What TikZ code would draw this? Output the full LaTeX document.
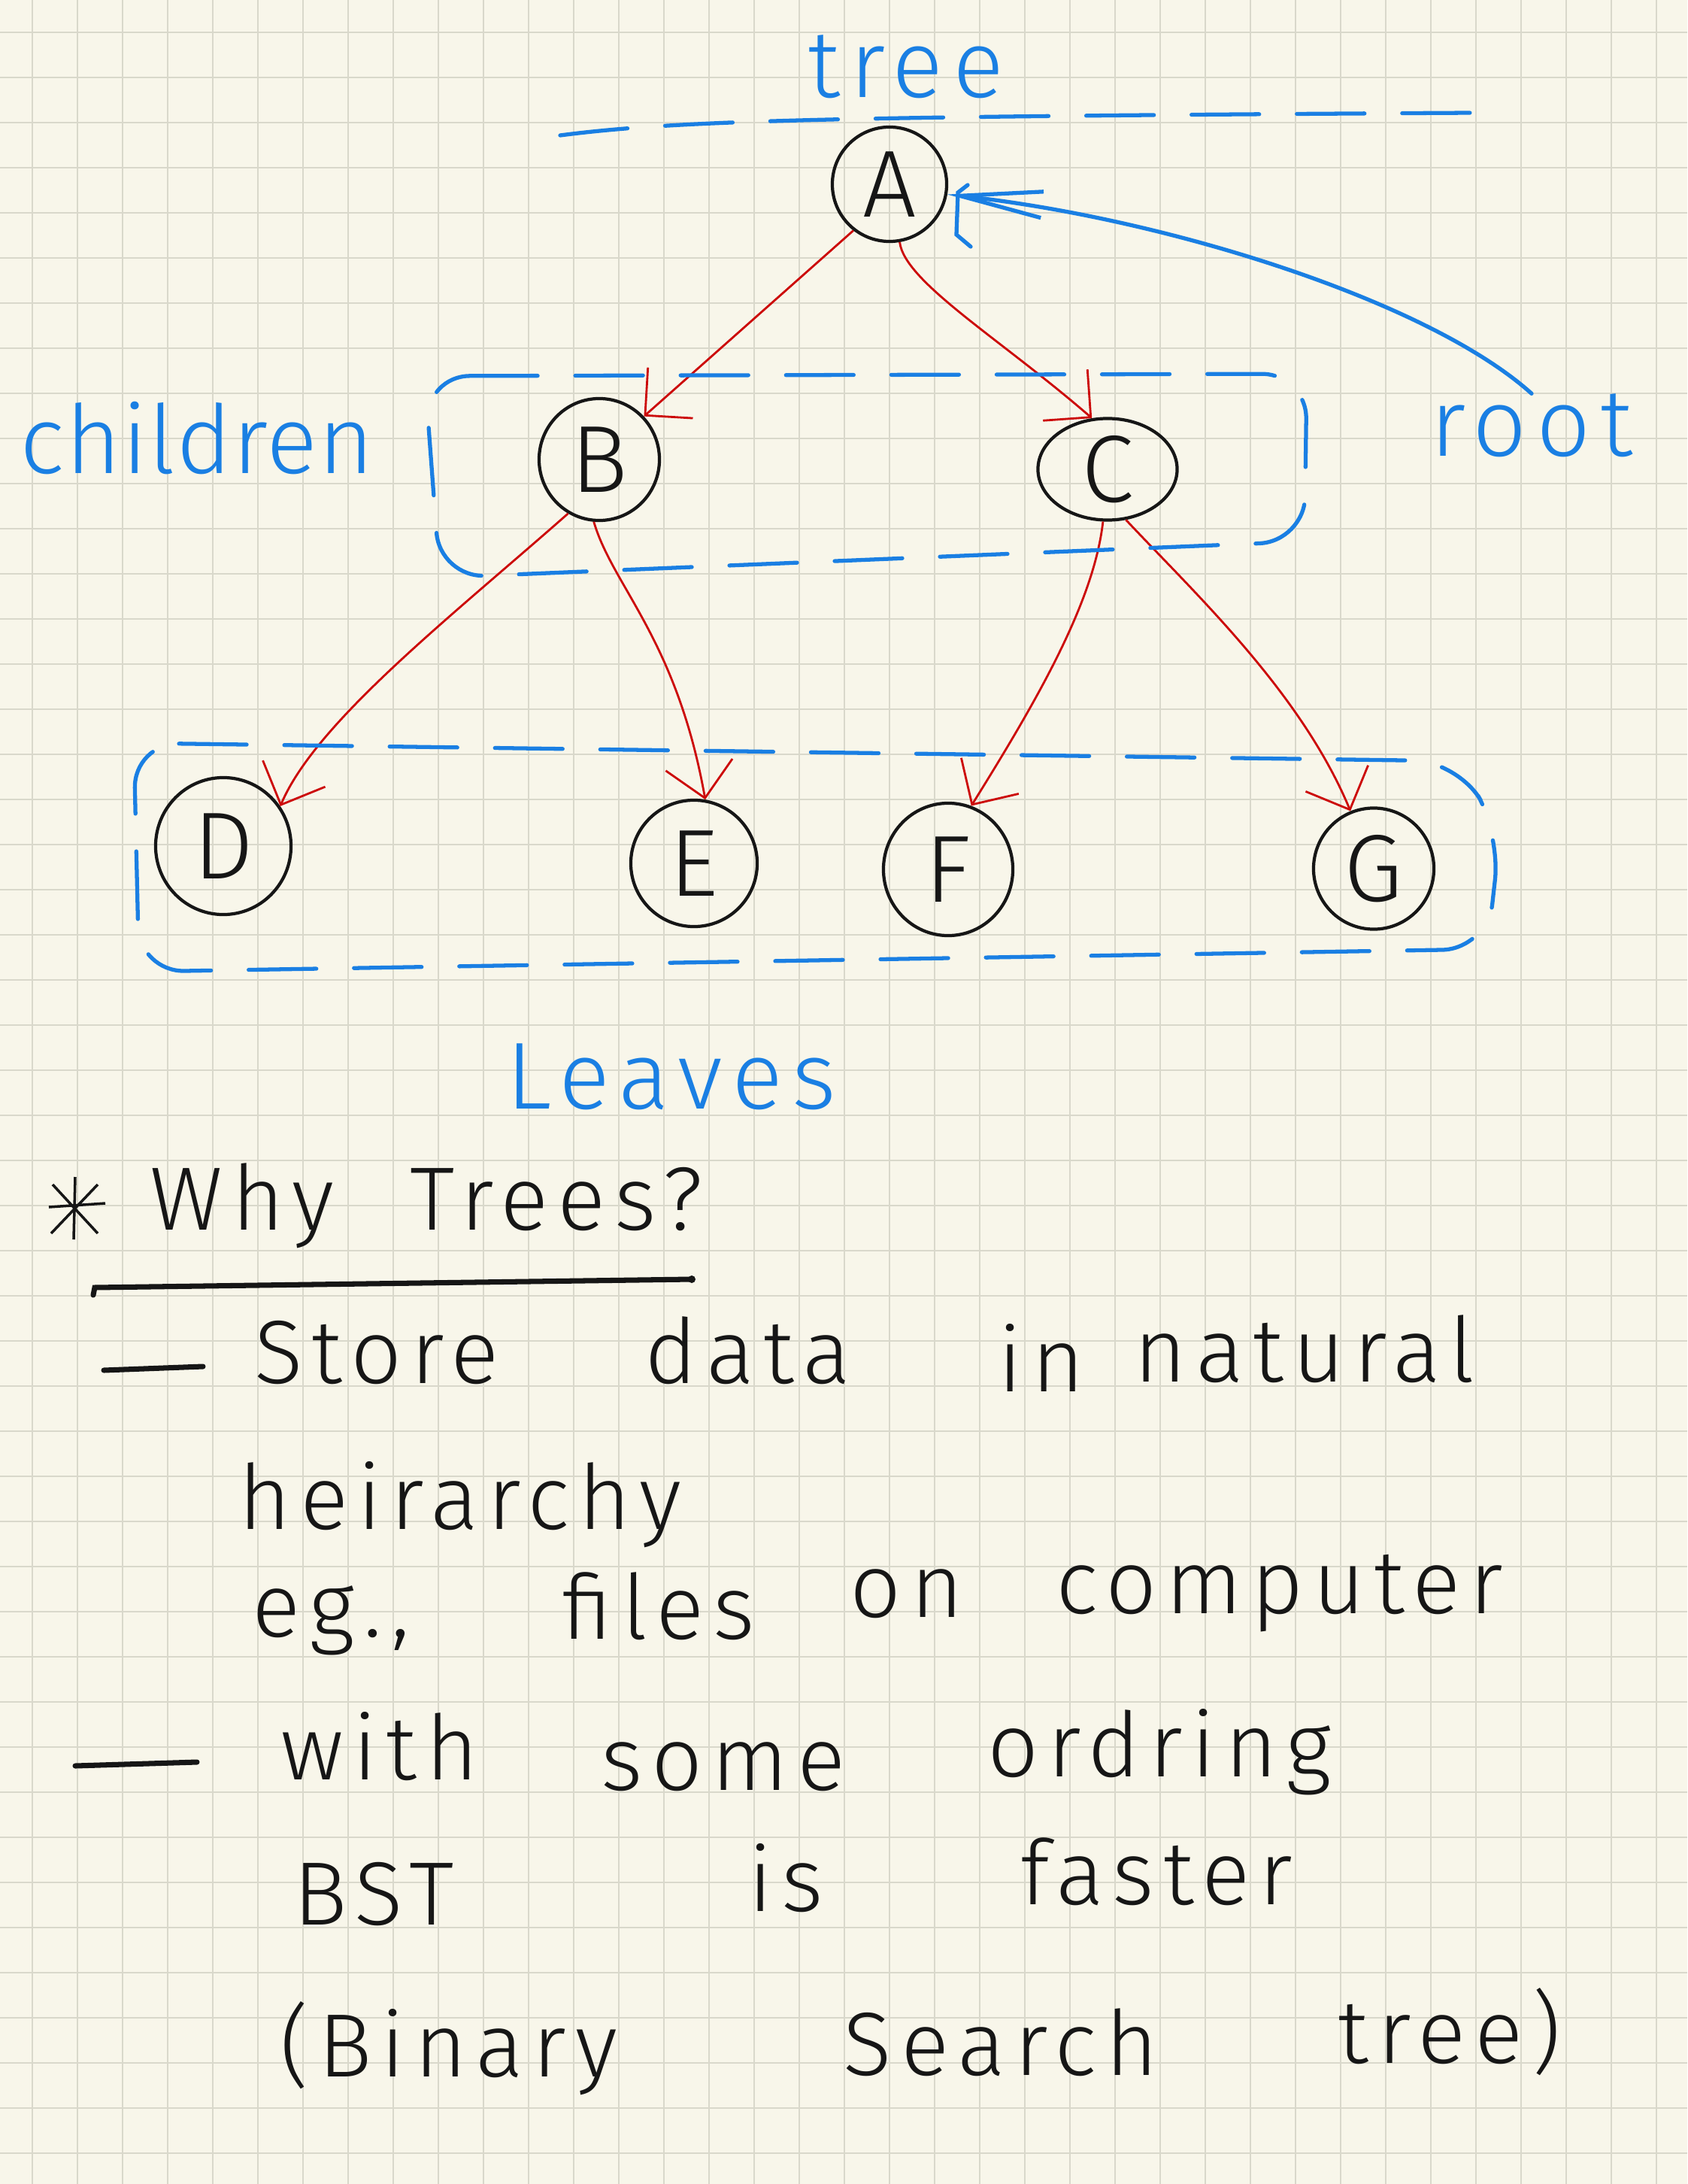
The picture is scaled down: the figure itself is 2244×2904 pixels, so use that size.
\documentclass[tikz,border=0pt]{standalone}
\usepackage{fontspec}
\usetikzlibrary{arrows.meta,shapes.geometric}
\newfontfamily\handfont{Fira Sans Light}[LetterSpace=10]
\definecolor{paper}{HTML}{F8F6EA}
\definecolor{gridgray}{HTML}{D9D8CB}
\definecolor{inkblue}{HTML}{1A7FE3}
\definecolor{inkred}{HTML}{CC0A0A}
\definecolor{ink}{HTML}{161616}
\tikzset{
  >={Straight Barb[length=4.5mm,width=9mm]},
  gridline/.style={draw=gridgray,line width=.7pt},
  treenode/.style={ellipse,draw=ink,line width=1.2pt,inner sep=0pt,text=ink,font=\handfont\fontsize{36}{40}\selectfont},
  childarrow/.style={->,draw=inkred,line width=.8pt},
  bluepen/.style={draw=inkblue,line width=1.5pt,line cap=round},
  groupbox/.style={bluepen,dash pattern=on 9mm off 5mm,rounded corners=6mm},
  rootarrow/.style={bluepen,-{Straight Barb[length=11mm,width=3.5mm]}},
  bluenote/.style={inner sep=0pt,anchor=base,text=inkblue,font=\handfont\fontsize{36}{40}\selectfont},
  words/.style={inner sep=0pt,anchor=base,text=ink,font=\handfont\fontsize{34}{40}\selectfont},
  blackpen/.style={draw=ink,line width=2pt,line cap=round},
}

\begin{document}
\begin{tikzpicture}[x=0.01cm,y=-0.01cm]
  \useasboundingbox (0,0) rectangle (2244,2904);
  \fill[paper] (0,0) rectangle (2244,2904);
  \foreach \g in {43,103,...,2244} \draw[gridline] (\g,0) -- (\g,2904);
  \foreach \g in {43,103,...,2904} \draw[gridline] (0,\g) -- (2244,\g);

  \node[treenode,minimum width=1.52cm,minimum height=1.52cm] (A) at (1183,245) {A};
  \node[treenode,minimum width=1.60cm,minimum height=1.62cm] (B) at (797,611) {B};
  \node[treenode,minimum width=1.85cm,minimum height=1.35cm] (C) at (1473,624) {C};
  \node[treenode,minimum width=1.80cm,minimum height=1.82cm] (D) at (297,1125) {D};
  \node[treenode,minimum width=1.68cm,minimum height=1.68cm] (E) at (923,1148) {E};
  \node[treenode,minimum width=1.72cm,minimum height=1.76cm] (F) at (1261,1156) {F};
  \node[treenode,minimum width=1.60cm,minimum height=1.61cm] (G) at (1827,1155) {G};

  \draw[childarrow] (A.232) -- (B.44);
  \draw[childarrow] (A.-80) .. controls (1203,375) and (1330,450) .. (C.107);
  \draw[childarrow] (B.240) .. controls (600,820) and (420,960) .. (D.35);
  \draw[childarrow] (B.265) .. controls (815,780) and (900,850) .. (E.80);
  \draw[childarrow] (C.265) .. controls (1455,800) and (1380,930) .. (F.70);
  \draw[childarrow] (C.-70) .. controls (1590,790) and (1730,920) .. (G.112);

  \draw[bluepen,dash pattern=on 9mm off 5mm] (745,180) .. controls (900,160) and (1100,155) .. (1960,150);
  \draw[groupbox] (565,500) -- (1738,497) -- (1735,720) -- (585,768) -- cycle;
  \draw[groupbox] (178,988) -- (1940,1012) -- (1995,1110) -- (1978,1262) -- (185,1292) -- cycle;

  \node[bluenote] (treelbl) at (1205,130) {tree};
  \node[bluenote] (children) at (262,630) {\addfontfeature{LetterSpace=1}children};
  \node[bluenote] (root) at (2037,607) {root};
  \node[bluenote] (leaves) at (893,1474) {Leaves};
  \draw[rootarrow] (root.north) .. controls (1900,400) and (1550,290) .. (A.-10);
  \draw[bluepen] (1287,246) -- (1274,256) -- (1272,312) -- (1291,328);

  \draw[draw=ink,line width=1pt] (70,1575) -- (130,1640) (130,1575) -- (68,1640) (100,1565) -- (98,1648) (65,1605) -- (140,1600);
  \node[words] (why) at (322,1635) {Why};
  \node[words] (trees) at (740,1635) {Trees?};
  \draw[blackpen] (124,1722) -- (126,1712) -- (920,1701);
  \fill[ink] (920,1701) circle (5);

  \draw[blackpen] (138,1822) -- (270,1817);
  \node[words] (store) at (501,1839) {Store};
  \node[words] (data) at (995,1839) {data};
  \node[words] (in) at (1385,1850) {in};
  \node[words] (natural) at (1735,1837) {natural};
  \node[words] (heir) at (612,2033) {heirarchy};
  \node[words] (eg) at (440,2176) {eg.,};
  \node[words] (files) at (876,2179) {files};
  \node[words] (on) at (1206,2150) {on};
  \node[words] (computer) at (1702,2145) {computer};

  \draw[blackpen] (100,2348) -- (262,2343);
  \node[words] (with) at (505,2366) {with};
  \node[words] (some) at (962,2380) {some};
  \node[words] (ordring) at (1542,2362) {ordring};
  \node[words] (bst) at (497,2559) {BST};
  \node[words] (is) at (1045,2541) {is};
  \node[words] (faster) at (1538,2532) {faster};
  \node[words] (binary) at (597,2761) {(Binary};
  \node[words] (search) at (1331,2759) {Search};
  \node[words] (treeword) at (1928,2743) {tree)};
\end{tikzpicture}
\end{document}
